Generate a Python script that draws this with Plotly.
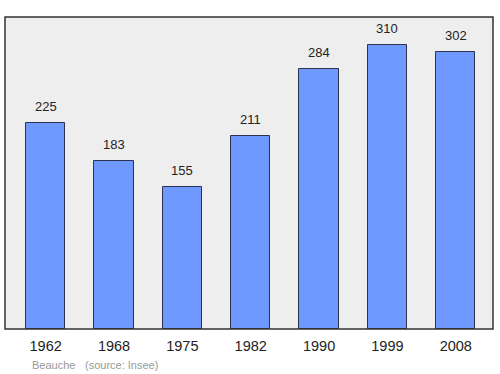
import plotly.graph_objects as go

years = ["1962", "1968", "1975", "1982", "1990", "1999", "2008"]
population = [225, 183, 155, 211, 284, 310, 302]
commune = "Beauche"
source = "(source: Insee)"

fig = go.Figure()
fig.add_trace(go.Bar(
    x=list(range(len(years))), y=population,
    marker=dict(color="#7099ff", line=dict(color="#2b3350", width=1)),
    width=0.575,
))
for i, v in enumerate(population):
    fig.add_annotation(x=i, y=v, text=str(v), showarrow=False, yanchor="bottom",
                       yshift=7, font=dict(family="Liberation Sans, Arial", size=13, color="#222"))
fig.update_layout(
    width=500, height=374,
    margin=dict(l=5, r=6.5, t=17, b=45),
    paper_bgcolor="white", plot_bgcolor="#eeeeee",
    showlegend=False,
    xaxis=dict(range=[-0.595, 6.545], tickmode="array", tickvals=list(range(len(years))),
               ticktext=years, showgrid=False, zeroline=False, ticks="", ticklen=0,
               ticklabelstandoff=6,
               tickfont=dict(family="Liberation Sans, Arial", size=14.5, color="#222")),
    yaxis=dict(range=[0, 340.6], showgrid=False, zeroline=False, showticklabels=False),
    font=dict(family="Liberation Sans, Arial"),
    bargap=0,
)
fig.add_shape(type="rect", xref="paper", yref="paper", x0=0, x1=1, y0=0, y1=1,
              line=dict(color="#333", width=1.5), fillcolor="rgba(0,0,0,0)", layer="above")
fig.add_annotation(xref="paper", yref="paper", x=(30.5-5)/488.5, y=-(364.5-329)/312,
                   xanchor="left", yanchor="middle", showarrow=False, text=commune,
                   font=dict(family="Liberation Sans, Arial", size=11, color="#999"))
fig.add_annotation(xref="paper", yref="paper", x=(83.3-5)/488.5, y=-(364.5-329)/312,
                   xanchor="left", yanchor="middle", showarrow=False, text=source,
                   font=dict(family="Liberation Sans, Arial", size=11, color="#999"))
fig.write_html("out.html")
